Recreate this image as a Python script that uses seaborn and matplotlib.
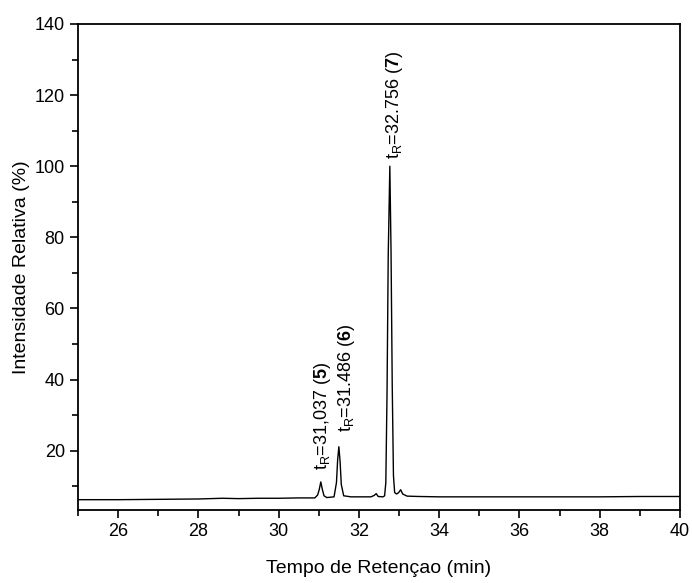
import matplotlib
matplotlib.use("Agg")
import matplotlib.pyplot as plt
from matplotlib.ticker import MultipleLocator
import seaborn as sns
import pandas as pd

# Chromatogram
tempo = [25.0, 26.0, 27.0, 28.0, 28.6, 29.0, 29.5, 30.0, 30.5, 30.9,
         30.97, 31.01, 31.05, 31.09, 31.13, 31.2, 31.38, 31.44, 31.47, 31.50,
         31.53, 31.56, 31.62, 31.8, 32.0, 32.3, 32.38, 32.43, 32.48, 32.6,
         32.64, 32.67, 32.70, 32.73, 32.77, 32.80, 32.83, 32.86, 32.89, 32.94,
         32.99, 33.04, 33.09, 33.2, 33.5, 34.0, 35.0, 36.0, 37.0, 38.0,
         39.0, 40.0]
intensidade = [6.2, 6.2, 6.3, 6.4, 6.6, 6.5, 6.6, 6.6, 6.7, 6.7,
               7.5, 9.0, 11.2, 9.0, 7.3, 6.8, 7.0, 11.0, 17.5, 21.1,
               17.0, 10.5, 7.3, 7.0, 7.0, 7.0, 7.4, 7.9, 7.1, 7.0,
               7.3, 11.0, 36.0, 75.0, 100.0, 76.0, 38.0, 13.0, 8.2, 7.8,
               8.2, 9.0, 7.8, 7.2, 7.1, 7.0, 7.0, 7.0, 7.0, 7.0,
               7.1, 7.1]

picos_t = [31.05, 31.50, 32.77]
picos_txt = [r"t$_\mathregular{R}$=31,037 ($\mathbf{5}$)",
             r"t$_\mathregular{R}$=31.486 ($\mathbf{6}$)",
             r"t$_\mathregular{R}$=32.756 ($\mathbf{7}$)"]

x_ticks = [26, 28, 30, 32, 34, 36, 38, 40]
y_ticks = [20, 40, 60, 80, 100, 120, 140]

sns.set_style("ticks")
plt.rcParams['font.family'] = ['Liberation Sans', 'DejaVu Sans']
plt.rcParams['mathtext.fontset'] = 'custom'
plt.rcParams['mathtext.rm'] = 'Liberation Sans'
plt.rcParams['mathtext.it'] = 'Liberation Sans:italic'
plt.rcParams['mathtext.bf'] = 'Liberation Sans:bold'
plt.rcParams['text.color'] = 'black'
plt.rcParams['axes.labelcolor'] = 'black'

df = pd.DataFrame({"t": tempo, "I": intensidade})

fig = plt.figure(figsize=(6.92, 5.83), dpi=100)
ax = fig.add_axes([78/692, 1 - 510/583, (680-78)/692, (510-24)/583])
sns.lineplot(data=df, x="t", y="I", ax=ax, color="black", linewidth=1.0)

ax.set_xlim(25, 40)
ax.set_ylim(3.3, 140)
ax.set_xticks(x_ticks)
ax.set_yticks(y_ticks)
ax.xaxis.set_minor_locator(MultipleLocator(1))
ax.yaxis.set_minor_locator(MultipleLocator(10))
ax.tick_params(axis='both', which='major', direction='out', length=6, width=1.2,
               labelsize=13, colors='black', top=False, right=False)
ax.tick_params(axis='both', which='minor', direction='out', length=4, width=1.2,
               colors='black', top=False, right=False)
for s in ax.spines.values():
    s.set_visible(True)
    s.set_linewidth(1.3)
    s.set_color('black')

ax.set_xlabel("Tempo de Retençao (min)", fontsize=14, labelpad=14, color='black')
ax.set_ylabel("Intensidade Relativa (%)", fontsize=14, labelpad=3, color='black')

offs = [(0.05, 14.6), (0.2, 25.1), (0.12, 102.0)]
for (t, txt, (dx, yb)) in zip(picos_t, picos_txt, offs):
    ax.text(t + dx, yb, txt, rotation=90, ha='center', va='bottom',
            fontsize=13, color='black')

fig.savefig("out.png", dpi=100)
